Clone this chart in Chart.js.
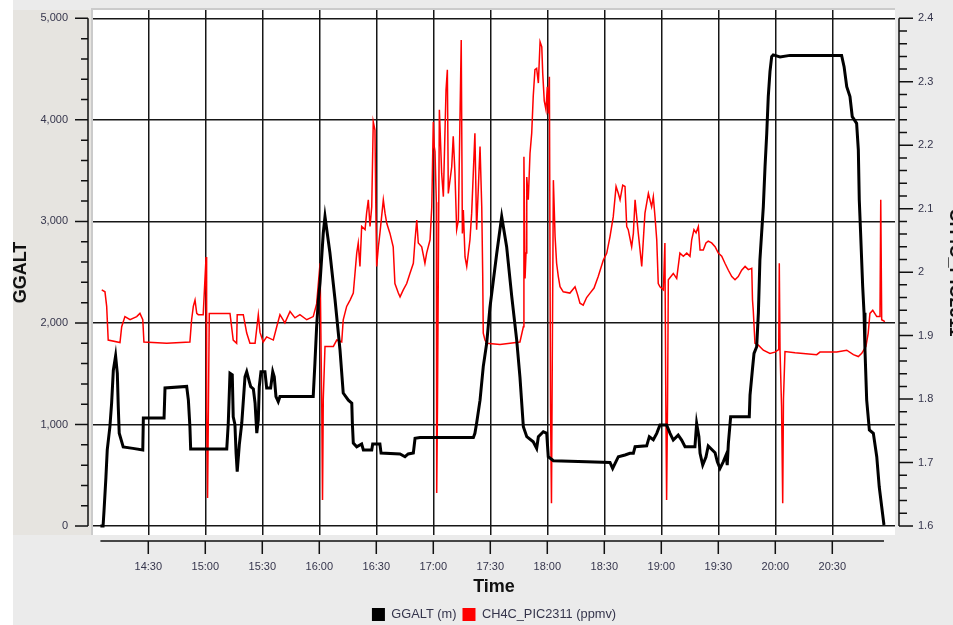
<!DOCTYPE html>
<html lang="en">
<head>
<meta charset="utf-8">
<title>GGALT / CH4C_PIC2311</title>
<script src="https://cdn.jsdelivr.net/npm/chart.js@4.4.1/dist/chart.umd.min.js"></script>
<style>
  html, body { margin: 0; padding: 0; background: #ffffff; }
  canvas { display: block; }
</style>
</head>
<body>
<canvas id="grafico" width="953" height="625"></canvas>
<script>
// Tempo em minutos desde 00:00 (UTC do voo)
const tempoAlt = [
  844.8, 846.2, 846.7, 847.7, 848.4, 849.8, 850.7, 851.6, 852.8, 853.7,
  854.2, 854.7, 856.8, 861.9, 867.1, 867.4, 878.3, 878.8, 890.2, 891.1,
  891.9, 892.3, 911.3, 912.1, 913.0, 914.2, 914.7, 915.6, 916.2, 916.8,
  917.9, 919.2, 920.9, 921.8, 923.2, 923.9, 925.3, 926.2, 927.1, 927.9,
  928.4, 929.3, 931.4, 932.3, 934.4, 935.5, 936.3, 937.2, 938.4, 939.3,
  956.8, 957.7, 958.6, 959.5, 960.4, 962.1, 963.0, 965.6, 968.3, 970.9,
  972.6, 975.3, 977.1, 977.4, 977.9, 979.7, 982.3, 983.2, 987.6, 988.1,
  991.9, 992.5, 1002.5, 1005.1, 1006.8, 1009.5, 1010.4, 1013.0, 1041.1, 1041.9,
  1042.8, 1044.6, 1046.3, 1048.1, 1049.8, 1053.4, 1056.0, 1058.6, 1061.3, 1063.9,
  1065.6, 1067.4, 1069.2, 1072.6, 1074.4, 1075.3, 1077.9, 1079.7, 1080.5, 1083.2,
  1100.7, 1113.0, 1114.4, 1117.4, 1120.9, 1123.5, 1125.3, 1126.2, 1132.3, 1133.7,
  1135.8, 1137.6, 1139.3, 1142.8, 1144.6, 1146.3, 1148.9, 1150.7, 1152.5, 1157.7,
  1158.6, 1159.8, 1160.4, 1161.8, 1163.5, 1164.7, 1168.3, 1169.5, 1170.9, 1172.6,
  1174.1, 1174.7, 1175.3, 1176.5, 1186.3, 1186.7, 1188.1, 1188.8, 1190.2, 1191.1,
  1191.9, 1193.7, 1194.6, 1195.5, 1196.3, 1197.2, 1198.1, 1198.9, 1202.5, 1207.7,
  1234.9, 1236.2, 1237.6, 1239.3, 1240.5, 1242.8, 1243.7, 1244.2, 1244.9, 1246.0,
  1246.7, 1247.2, 1248.1, 1249.5, 1251.6, 1253.4, 1254.7, 1256.0, 1257.2
];

// Altitude GGALT (m)
const ggalt = [
  0, 0, 150, 480, 750, 980, 1210, 1535, 1675, 1505,
  1175, 915, 780, 765, 750, 1065, 1065, 1360, 1375, 1240,
  980, 760, 760, 1015, 1505, 1490, 1075, 1000, 720, 535,
  800, 1015, 1470, 1520, 1420, 1372, 1350, 1210, 915, 1045,
  1372, 1520, 1520, 1360, 1360, 1520, 1470, 1275, 1225, 1275,
  1275, 1605, 1963, 2226, 2400, 2886, 3047, 2690, 2226, 1734,
  1310, 1240, 1210, 1015, 817, 780, 808, 750, 750, 808,
  808, 720, 710, 683, 710, 720, 864, 873, 873, 913,
  1012, 1240, 1570, 1800, 2150, 2686, 3047, 2751, 2260, 1832,
  1470, 978, 880, 830, 765, 880, 929, 913, 683, 643,
  633, 627, 568, 683, 700, 716, 716, 781, 790, 880,
  850, 913, 995, 995, 913, 847, 896, 847, 781, 781,
  1011, 880, 716, 601, 680, 788, 722, 633, 568, 633,
  700, 600, 814, 1076, 1076, 1290, 1569, 1700, 1766, 2100,
  2620, 3145, 3539, 3868, 4229, 4475, 4623, 4640, 4620, 4635,
  4635, 4524, 4327, 4229, 4032, 3966, 3704, 3211, 2886, 2357,
  2100, 1734, 1241, 946, 913, 683, 387, 190, 10
];

const tempoCh4 = [
  845.5, 847.2, 848.1, 848.9, 855.1, 856.0, 857.7, 860.4, 863.9, 865.6,
  867.1, 867.7, 879.7, 891.9, 892.8, 893.7, 894.6, 895.5, 896.3, 898.9,
  900.4, 900.7, 901.2, 901.6, 902.1, 913.0, 914.7, 916.5, 916.8, 920.0,
  921.8, 923.5, 926.2, 927.9, 928.8, 930.5, 932.3, 935.8, 937.6, 939.3,
  941.9, 944.6, 947.2, 949.8, 953.4, 956.8, 958.6, 960.4, 961.3, 961.7,
  962.1, 963.0, 967.4, 969.2, 971.8, 972.6, 974.4, 976.2, 977.9, 979.7,
  980.5, 981.4, 982.3, 984.1, 984.9, 985.8, 986.7, 987.6, 988.4, 989.3,
  989.8, 990.2, 991.1, 991.9, 993.7, 994.6, 995.5, 997.2, 998.9, 999.8,
  1001.6, 1002.5, 1004.2, 1006.0, 1007.7, 1009.5, 1010.4, 1011.3, 1012.1, 1013.9,
  1015.6, 1016.5, 1018.3, 1019.2, 1020.0, 1020.5, 1020.9, 1021.6, 1021.8, 1022.2,
  1023.2, 1024.4, 1025.3, 1026.7, 1027.4, 1027.9, 1028.8, 1029.7, 1030.5, 1031.4,
  1032.3, 1033.2, 1034.7, 1035.3, 1035.8, 1036.7, 1037.6, 1039.3, 1040.2, 1041.9,
  1042.8, 1044.6, 1045.5, 1046.0, 1046.3, 1047.2, 1048.1, 1055.1, 1060.4, 1065.6,
  1067.4, 1067.7, 1068.3, 1068.8, 1069.2, 1070.0, 1070.9, 1071.8, 1072.6, 1073.5,
  1074.4, 1075.3, 1076.2, 1077.1, 1077.6, 1078.4, 1079.3, 1080.0, 1080.5, 1081.1,
  1081.7, 1082.2, 1082.7, 1083.2, 1084.1, 1084.9, 1085.8, 1086.7, 1088.4, 1091.9,
  1094.6, 1095.9, 1097.2, 1098.9, 1100.7, 1102.5, 1104.6, 1106.8, 1109.5, 1111.3,
  1113.0, 1114.7, 1116.2, 1117.4, 1118.3, 1119.7, 1120.9, 1121.8, 1122.6, 1124.4,
  1125.3, 1126.2, 1127.9, 1129.7, 1131.4, 1133.2, 1134.9, 1135.8, 1136.7, 1137.6,
  1138.4, 1139.3, 1141.1, 1141.9, 1142.4, 1142.8, 1143.3, 1143.7, 1146.3, 1148.1,
  1149.8, 1151.6, 1153.4, 1155.1, 1156.0, 1157.2, 1158.3, 1159.5, 1160.4, 1162.1,
  1163.5, 1164.7, 1166.5, 1168.3, 1170.0, 1171.8, 1173.5, 1175.3, 1177.1, 1178.8,
  1180.5, 1182.3, 1184.1, 1185.8, 1187.6, 1188.0, 1188.4, 1189.3, 1191.1, 1193.7,
  1197.2, 1199.8, 1201.8, 1202.1, 1202.5, 1203.3, 1203.9, 1204.3, 1205.1, 1210.4,
  1214.7, 1221.8, 1223.5, 1232.3, 1237.6, 1241.1, 1243.7, 1245.5, 1247.7, 1248.9,
  1249.8, 1251.3, 1253.4, 1255.1, 1255.5, 1256.0, 1257.7
];

// Metano CH4C_PIC2311 (ppmv)
const ch4 = [
  1.972, 1.969, 1.946, 1.893, 1.889, 1.914, 1.930, 1.925, 1.930, 1.935,
  1.925, 1.890, 1.888, 1.890, 1.925, 1.946, 1.956, 1.935, 1.933, 1.933,
  2.024, 1.783, 1.644, 1.772, 1.935, 1.935, 1.893, 1.888, 1.933, 1.933,
  1.904, 1.888, 1.888, 1.933, 1.905, 1.890, 1.898, 1.893, 1.914, 1.933,
  1.920, 1.938, 1.928, 1.933, 1.925, 1.930, 1.950, 2.014, 1.788, 1.641,
  1.800, 1.883, 1.883, 1.893, 1.890, 1.925, 1.946, 1.956, 1.967, 2.030,
  2.046, 2.009, 2.072, 2.067, 2.093, 2.114, 2.072, 2.103, 2.237, 2.224,
  2.093, 2.009, 2.040, 2.061, 2.114, 2.093, 2.077, 2.061, 2.040, 1.982,
  1.967, 1.961, 1.972, 1.982, 1.998, 2.014, 2.051, 2.082, 2.046, 2.040,
  2.014, 2.030, 2.051, 2.103, 2.237, 2.198, 2.190, 2.110, 1.652, 1.790,
  2.256, 2.156, 2.119, 2.287, 2.319, 2.124, 2.145, 2.166, 2.214, 2.156,
  2.067, 2.082, 2.366, 2.061, 2.098, 2.024, 2.009, 2.051, 2.093, 2.219,
  2.067, 2.198, 2.103, 1.999, 1.904, 1.893, 1.888, 1.886, 1.888, 1.890,
  1.914, 2.182, 1.990, 2.030, 2.150, 2.114, 2.187, 2.219, 2.277, 2.319,
  2.321, 2.298, 2.363, 2.355, 2.313, 2.270, 2.256, 2.292, 2.250, 2.308,
  1.788, 1.636, 1.900, 2.145, 2.056, 2.014, 1.993, 1.977, 1.969, 1.967,
  1.977, 1.965, 1.951, 1.948, 1.960, 1.967, 1.975, 1.993, 2.019, 2.030,
  2.056, 2.087, 2.135, 2.124, 2.114, 2.137, 2.135, 2.072, 2.067, 2.040,
  2.061, 2.114, 2.061, 2.009, 2.093, 2.124, 2.103, 2.119, 2.087, 2.051,
  1.982, 1.977, 1.972, 2.046, 1.788, 1.641, 1.800, 1.988, 1.998, 1.990,
  2.030, 2.025, 2.030, 2.025, 2.051, 2.067, 2.062, 2.072, 2.035, 2.035,
  2.046, 2.049, 2.046, 2.040, 2.030, 2.025, 2.014, 2.003, 1.993, 1.988,
  1.993, 2.003, 2.009, 2.004, 2.006, 1.956, 1.940, 1.888, 1.885, 1.877,
  1.872, 1.874, 1.878, 2.014, 1.875, 1.788, 1.636, 1.800, 1.875, 1.873,
  1.872, 1.870, 1.874, 1.874, 1.877, 1.870, 1.867, 1.872, 1.883, 1.904,
  1.935, 1.940, 1.930, 1.930, 2.114, 1.925, 1.922
];

// Marcas dos eixos
const ticksTempo = [870, 900, 930, 960, 990, 1020, 1050, 1080, 1110, 1140, 1170, 1200, 1230];
const ticksAlt = [0, 1000, 2000, 3000, 4000, 5000];
const ticksCh4 = [1.6, 1.7, 1.8, 1.9, 2.0, 2.1, 2.2, 2.3, 2.4];

const corTexto = '#35354c';
const corGrade = '#161616';

Chart.defaults.font.family = "'Liberation Sans', Arial, Helvetica, sans-serif";

function minutosParaHora(v) {
    const h = Math.floor(v / 60);
    const m = Math.round(v - h * 60);
    return h + ':' + String(m).padStart(2, '0');
}

// 4 marcas menores entre cada par de marcas maiores
function ticksMenores(maiores) {
    const lista = [];
    for (let i = 0; i < maiores.length - 1; i++) {
        const passo = (maiores[i + 1] - maiores[i]) / 5;
        for (let k = 1; k < 5; k++) lista.push(maiores[i] + k * passo);
    }
    return lista;
}

const menoresAlt = ticksMenores(ticksAlt);
const menoresCh4 = ticksMenores(ticksCh4);

// Fundo cinza, painel do eixo esquerdo e area branca do grafico
const fundo = {
    id: 'fundo',
    beforeDraw(chart) {
        const { ctx, chartArea: a, width, height } = chart;
        ctx.save();
        ctx.fillStyle = '#ebebeb';
        ctx.fillRect(0, 0, width, height);
        ctx.fillStyle = '#ffffff';
        ctx.fillRect(0, 0, 13, height);
        ctx.fillStyle = '#e6e4e0';
        ctx.fillRect(13, a.top, a.left - 15, a.bottom - a.top);
        ctx.fillStyle = '#cbcbcb';
        ctx.fillRect(a.left - 2, a.top - 2, a.right - a.left + 2, a.bottom - a.top + 2);
        ctx.fillStyle = '#ffffff';
        ctx.fillRect(a.left, a.top, a.right - a.left, a.bottom - a.top);
        ctx.restore();
    }
};

// Linhas dos eixos afastadas da area do grafico, com marcas maiores e menores
const eixos = {
    id: 'eixos',
    afterDraw(chart) {
        const { ctx, chartArea: a, scales } = chart;
        const { x, y, y1 } = scales;
        ctx.save();
        ctx.strokeStyle = '#111111';
        ctx.lineWidth = 1.5;
        ctx.beginPath();

        // eixo esquerdo
        const xe = a.left - 5;
        ctx.moveTo(xe, y.getPixelForValue(ticksAlt[0]));
        ctx.lineTo(xe, y.getPixelForValue(ticksAlt[ticksAlt.length - 1]));
        ticksAlt.forEach(v => {
            const p = y.getPixelForValue(v);
            ctx.moveTo(xe - 13, p); ctx.lineTo(xe, p);
        });
        menoresAlt.forEach(v => {
            const p = y.getPixelForValue(v);
            ctx.moveTo(xe - 7, p); ctx.lineTo(xe, p);
        });

        // eixo direito
        const xd = a.right + 4;
        ctx.moveTo(xd, y1.getPixelForValue(ticksCh4[0]));
        ctx.lineTo(xd, y1.getPixelForValue(ticksCh4[ticksCh4.length - 1]));
        ticksCh4.forEach(v => {
            const p = y1.getPixelForValue(v);
            ctx.moveTo(xd, p); ctx.lineTo(xd + 14, p);
        });
        menoresCh4.forEach(v => {
            const p = y1.getPixelForValue(v);
            ctx.moveTo(xd, p); ctx.lineTo(xd + 8, p);
        });

        // eixo do tempo (cobre so o periodo com dados)
        const yb = a.bottom + 6;
        ctx.moveTo(x.getPixelForValue(tempoAlt[0]), yb);
        ctx.lineTo(x.getPixelForValue(tempoAlt[tempoAlt.length - 1]), yb);
        ticksTempo.forEach(v => {
            const p = x.getPixelForValue(v);
            ctx.moveTo(p, yb); ctx.lineTo(p, yb + 13);
        });

        ctx.stroke();
        ctx.restore();
    }
};

new Chart(document.getElementById('grafico'), {
    type: 'line',
    data: {
        datasets: [
            {
                label: 'GGALT (m)',
                data: tempoAlt.map((t, i) => ({ x: t, y: ggalt[i] })),
                yAxisID: 'y',
                borderColor: '#000000',
                backgroundColor: '#000000',
                borderWidth: 3,
                pointRadius: 0
            },
            {
                label: 'CH4C_PIC2311 (ppmv)',
                data: tempoCh4.map((t, i) => ({ x: t, y: ch4[i] })),
                yAxisID: 'y1',
                borderColor: '#ff0000',
                backgroundColor: '#ff0000',
                borderWidth: 1.5,
                pointRadius: 0
            }
        ]
    },
    options: {
        responsive: false,
        animation: false,
        layout: { padding: { top: 10, left: 0, right: 0, bottom: -6 } },
        scales: {
            x: {
                type: 'linear',
                bounds: 'data',
                min: 840.9,
                max: 1263,
                afterBuildTicks: (eixo) => { eixo.ticks = ticksTempo.map(v => ({ value: v })); },
                afterFit: (eixo) => { eixo.height = 67; },
                grid: { color: corGrade, lineWidth: 1.5, drawTicks: true, tickLength: 25, tickColor: 'transparent' },
                border: { display: false },
                ticks: {
                    color: corTexto,
                    font: { size: 11 },
                    padding: 0,
                    maxRotation: 0,
                    autoSkip: false,
                    callback: (v) => minutosParaHora(v)
                },
                title: {
                    display: true,
                    text: 'Time',
                    color: '#111111',
                    font: { size: 18, weight: 'bold' },
                    padding: { top: 0, bottom: 4 }
                }
            },
            y: {
                position: 'left',
                bounds: 'data',
                min: -88,
                max: 5082,
                afterBuildTicks: (eixo) => { eixo.ticks = ticksAlt.map(v => ({ value: v })); },
                afterFit: (eixo) => { eixo.width = 93; },
                // o afastamento dos rotulos vem de tickLength (marcas transparentes),
                // para nao aumentar o recuo do topo da area do grafico
                grid: { color: corGrade, lineWidth: 1.5, drawTicks: true, tickLength: 25, tickColor: 'transparent' },
                border: { display: false },
                ticks: {
                    color: corTexto,
                    font: { size: 11 },
                    padding: 0,
                    callback: (v) => v.toLocaleString('en-US')
                },
                title: {
                    display: true,
                    text: 'GGALT',
                    color: '#111111',
                    font: { size: 18, weight: 'bold' },
                    padding: { top: 10, bottom: 0 }
                }
            },
            y1: {
                position: 'right',
                bounds: 'data',
                min: 1.5858,
                max: 2.4131,
                afterBuildTicks: (eixo) => { eixo.ticks = ticksCh4.map(v => ({ value: v })); },
                afterFit: (eixo) => { eixo.width = 58; },
                grid: { display: true, drawOnChartArea: false, drawTicks: true, tickLength: 23, tickColor: 'transparent' },
                border: { display: false },
                ticks: {
                    color: corTexto,
                    font: { size: 11 },
                    padding: 0,
                    callback: (v) => String(Number(v.toFixed(1)))
                },
                title: {
                    display: true,
                    text: 'CH4C_PIC2311',
                    color: '#111111',
                    font: { size: 18, weight: 'bold' },
                    padding: { top: -13, bottom: 0 }
                }
            }
        },
        plugins: {
            legend: {
                position: 'bottom',
                fullSize: false,
                labels: {
                    boxWidth: 13,
                    boxHeight: 13,
                    padding: 6,
                    color: corTexto,
                    font: { size: 12.8 },
                    generateLabels(chart) {
                        return Chart.defaults.plugins.legend.labels.generateLabels(chart)
                            .map(item => ({ ...item, lineWidth: 0 }));
                    }
                }
            },
            tooltip: { enabled: false }
        }
    },
    plugins: [fundo, eixos]
});
</script>
</body>
</html>
